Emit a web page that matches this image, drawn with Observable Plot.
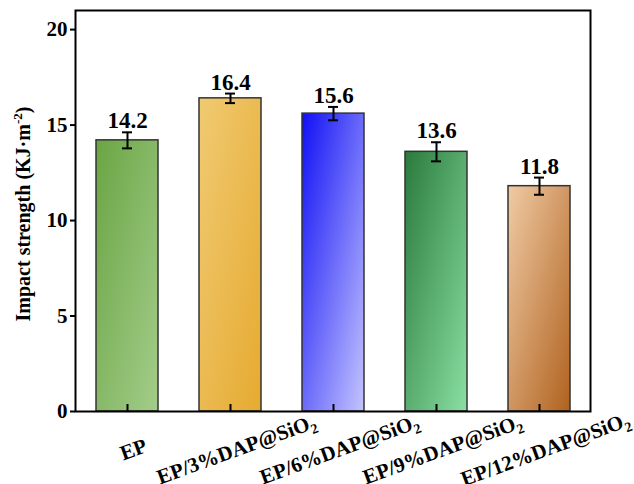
<!DOCTYPE html>
<html><head><meta charset="utf-8">
<script src="https://cdn.jsdelivr.net/npm/d3@7"></script>
<script src="https://cdn.jsdelivr.net/npm/@observablehq/plot@0.6"></script>
<style>body{margin:0;background:#fff}</style>
</head><body><div id="chart"></div>
<script>
const categories = ["EP", "EP/3%DAP@SiO2", "EP/6%DAP@SiO2", "EP/9%DAP@SiO2", "EP/12%DAP@SiO2"];
const values = [14.2, 16.4, 15.6, 13.6, 11.8];
const errors = [0.42, 0.25, 0.35, 0.5, 0.45];
const valueLabels = ["14.2", "16.4", "15.6", "13.6", "11.8"];
const yTicks = [0, 5, 10, 15, 20];
const gradStart = ["#6aa544", "#f0ca72", "#1010f5", "#2a7a3c", "#f0cba5"];
const gradEnd = ["#a3cd8a", "#e6aa30", "#c4c4ff", "#8adfa2", "#b0621f"];
const yLabelMain = "Impact strength (KJ·m";
const yLabelSup = "-2";

const data = categories.map((c, i) => ({c, v: values[i], e: errors[i], t: valueLabels[i], g: `url(#grad${i})`}));
const font = "'Liberation Serif','Times New Roman',serif";

const defs = () => {
  const d = d3.create("svg:defs");
  categories.forEach((c, i) => {
    const lg = d.append("linearGradient").attr("id", `grad${i}`)
      .attr("x1", 0).attr("y1", 0).attr("x2", 1).attr("y2", 1);
    lg.append("stop").attr("offset", "0%").attr("stop-color", gradStart[i]);
    lg.append("stop").attr("offset", "100%").attr("stop-color", gradEnd[i]);
  });
  return d.node();
};

const chart = Plot.plot({
  width: 634, height: 484,
  marginLeft: 75, marginRight: 44, marginTop: 10, marginBottom: 73,
  style: {fontFamily: font, fontWeight: "bold", color: "#000", background: "#fff", overflow: "visible"},
  x: {domain: categories, paddingInner: 0.4, paddingOuter: 0.2, label: null, axis: null},
  y: {domain: [0, 21], label: null, axis: null},
  color: {type: "identity"},
  marks: [
    defs,
    Plot.barY(data, {x: "c", y: "v", fill: "g", stroke: "#333", strokeWidth: 1.5}),
    Plot.ruleX(data, {x: "c", y1: d => d.v - d.e, y2: d => d.v + d.e, stroke: "#000", strokeWidth: 2}),
    Plot.tickY(data, {x: "c", y: d => d.v - d.e, insetLeft: 26, insetRight: 26, stroke: "#000", strokeWidth: 2}),
    Plot.tickY(data, {x: "c", y: d => d.v + d.e, insetLeft: 26, insetRight: 26, stroke: "#000", strokeWidth: 2}),
    Plot.text(data, {x: "c", y: d => d.v + d.e, text: "t", dy: -4, lineAnchor: "bottom", fontSize: 23, fontWeight: "bold"}),
    Plot.axisX({tickSize: -7, strokeWidth: 2, tickFormat: () => "", label: null}),
    Plot.axisY({ticks: yTicks, tickSize: 5, tickPadding: 3, strokeWidth: 2, fontSize: 21, fontWeight: "bold", label: null}),
    Plot.text(categories, {x: d => d, frameAnchor: "bottom", dy: 38, dx: 6, rotate: -20, fontSize: 21, fontWeight: "bold", textAnchor: "middle", lineAnchor: "middle"}),
    Plot.frame({stroke: "#000", strokeWidth: 2})
  ]
});

const svg = d3.select(chart);
// subscripts in SiO2
svg.selectAll("text").each(function() {
  const el = d3.select(this);
  const s = this.textContent;
  if (s.endsWith("SiO2") && this.childElementCount === 0) {
    el.text(s.slice(0, -1));
    el.append("tspan").attr("dy", 5).attr("font-size", 14).text("2");
  }
});
// y label with superscript
const yl = svg.append("text")
  .attr("transform", "translate(30,214) rotate(-90)")
  .attr("text-anchor", "middle")
  .attr("font-size", 20).attr("font-weight", "bold").attr("fill", "#000");
yl.append("tspan").text(yLabelMain);
yl.append("tspan").attr("dy", -8).attr("font-size", 13).text(yLabelSup);
yl.append("tspan").attr("dy", 8).text(")");

document.getElementById("chart").appendChild(chart);
</script>
</body></html>
